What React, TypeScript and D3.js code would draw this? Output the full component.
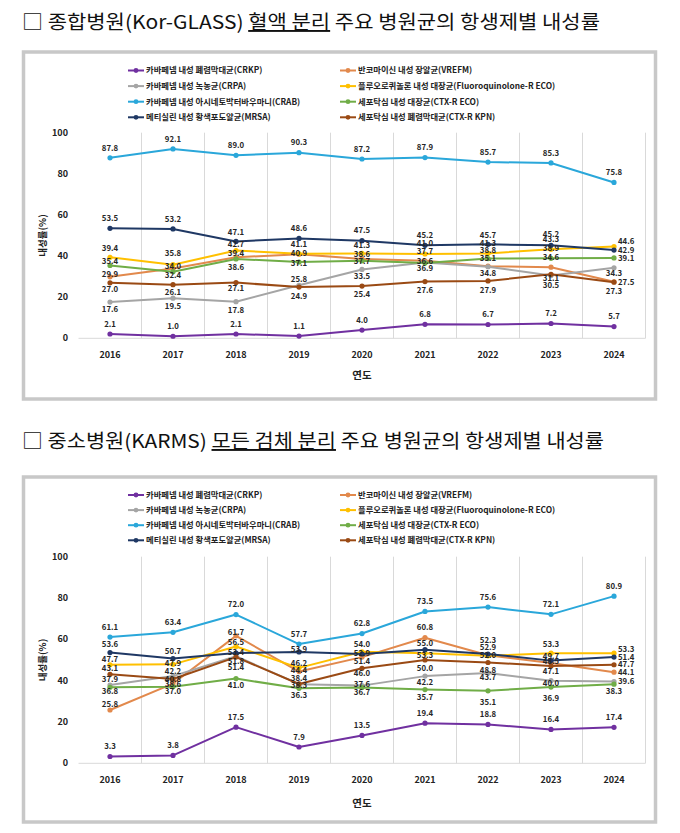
import React from 'react';
import * as d3 from 'd3';

// ---------- data ----------
const years = ['2016', '2017', '2018', '2019', '2020', '2021', '2022', '2023', '2024'];
const yTicks = [0, 20, 40, 60, 80, 100];

const seriesKeys = ['CRKP', 'VREFM', 'CRPA', 'FQECO', 'CRAB', 'CTXECO', 'MRSA', 'CTXKPN'];
const seriesNames = [
  '카바페넴 내성 폐렴막대균(CRKP)',
  '반코마이신 내성 장알균(VREFM)',
  '카바페넴 내성  녹농균(CRPA)',
  '플루오로퀴놀론 내성 대장균(Fluoroquinolone-R ECO)',
  '카바페넴 내성 아시네토박터바우마니(CRAB)',
  '세포탁심 내성 대장균(CTX-R ECO)',
  '메티실린 내성 황색포도알균(MRSA)',
  '세포탁심 내성 폐렴막대균(CTX-R KPN)',
];

// 종합병원 (Kor-GLASS)
const glassCRKP = [2.1, 1.0, 2.1, 1.1, 4.0, 6.8, 6.7, 7.2, 5.7];
const glassVREFM = [29.9, 34.0, 39.4, 40.9, 38.6, 37.7, 35.1, 34.6, 27.5];
const glassCRPA = [17.6, 19.5, 17.8, 25.8, 33.5, 36.9, 34.8, 30.5, 34.3];
const glassFQECO = [39.4, 35.8, 42.7, 41.1, 41.3, 41.0, 41.3, 43.3, 44.6];
const glassCRAB = [87.8, 92.1, 89.0, 90.3, 87.2, 87.9, 85.7, 85.3, 75.8];
const glassCTXECO = [35.4, 32.4, 38.6, 37.1, 37.7, 36.6, 38.8, 38.9, 39.1];
const glassMRSA = [53.5, 53.2, 47.1, 48.6, 47.5, 45.2, 45.7, 45.2, 42.9];
const glassCTXKPN = [27.0, 26.1, 27.1, 24.9, 25.4, 27.6, 27.9, 31.1, 27.3];

// 중소병원 (KARMS)
const karmsCRKP = [3.3, 3.8, 17.5, 7.9, 13.5, 19.4, 18.8, 16.4, 17.4];
const karmsVREFM = [25.8, 38.6, 61.7, 44.4, 51.4, 60.8, 52.3, 48.5, 44.1];
const karmsCRPA = [37.9, 42.2, 51.8, 38.3, 37.6, 42.2, 43.7, 40.0, 39.6];
const karmsFQECO = [47.7, 47.9, 56.5, 46.2, 54.0, 53.3, 52.0, 53.3, 53.3];
const karmsCRAB = [61.1, 63.4, 72.0, 57.7, 62.8, 73.5, 75.6, 72.1, 80.9];
const karmsCTXECO = [36.8, 37.0, 41.0, 36.3, 36.7, 35.7, 35.1, 36.9, 38.3];
const karmsMRSA = [53.6, 50.7, 53.4, 53.9, 52.9, 55.0, 52.9, 49.7, 51.4];
const karmsCTXKPN = [43.1, 40.8, 51.4, 38.4, 46.0, 50.0, 48.8, 47.1, 47.7];

// ---------- style ----------
const seriesColors: Record<string, string> = {
  CRKP: '#7030A0',
  VREFM: '#E2894C',
  CRPA: '#A5A5A5',
  FQECO: '#FFC000',
  CRAB: '#2AA7DA',
  CTXECO: '#70AD47',
  MRSA: '#1F3864',
  CTXKPN: '#9A4A14',
};

const FONT = "'Noto Sans CJK KR', 'Noto Sans', sans-serif";

type Nudge = number | { right: true; dy: number };
const R = (dy: number): Nudge => ({ right: true, dy });
const all = (n: number): Nudge[] => years.map(() => n);

// data label nudges (px, relative to the point)
const glassNudges: Record<string, Nudge[]> = {
  CRKP: all(-10),
  VREFM: [-3, -2, -4, -1, -5, -10, -8, -10, R(1)],
  CRPA: [7, 8, 9, -6, 7, 6, 7, 10, 5],
  FQECO: [-9, -11, -6, -10, -8, -11, -10, -10, R(-5)],
  CRAB: all(-10),
  CTXECO: [-4, 4, 8, 1, 0, -2, -8, -10, R(0)],
  MRSA: [-10, -10, -9, -10, -10, -10, -9, -11, R(0)],
  CTXKPN: [6, 8, 6, 9, 8, 9, 9, 4, 9],
};
const karmsNudges: Record<string, Nudge[]> = {
  CRKP: all(-10),
  VREFM: [-6, 1, -4, -1, 4, -10, -15, -2, R(0)],
  CRPA: [-6, -5, 5, 1, -1, 6, 4, 3, R(0)],
  FQECO: [-5, -1, -4, -5, -7, 2, -1, -9, R(-4)],
  CRAB: all(-10),
  CTXECO: [4, 4, 7, 7, 5, 8, 11, 11, 7],
  MRSA: [-8, -7, -1, -3, -1, -6, -7, -4, R(0)],
  CTXKPN: [-6, 0, 10, -6, 5, 8, 8, 5, R(0)],
};

const glassData: Record<string, number[]> = {
  CRKP: glassCRKP, VREFM: glassVREFM, CRPA: glassCRPA, FQECO: glassFQECO,
  CRAB: glassCRAB, CTXECO: glassCTXECO, MRSA: glassMRSA, CTXKPN: glassCTXKPN,
};
const karmsData: Record<string, number[]> = {
  CRKP: karmsCRKP, VREFM: karmsVREFM, CRPA: karmsCRPA, FQECO: karmsFQECO,
  CRAB: karmsCRAB, CTXECO: karmsCTXECO, MRSA: karmsMRSA, CTXKPN: karmsCTXKPN,
};

interface Layout {
  titleY: number;
  titleWidth: number;
  panelTop: number;
  panelBottom: number;
  legendTop: number;
  legendStep: number;
  plotTop: number;
  plotBottom: number;
  yearY: number;
  xTitleY: number;
}

function Chart({
  layout, data, nudges, titlePre, titleUnder, titlePost,
}: {
  layout: Layout; data: Record<string, number[]>; nudges: Record<string, Nudge[]>;
  titlePre: string; titleUnder: string; titlePost: string;
}) {
  const plotLeft = 78.5;
  const plotRight = 645.5;
  const x = d3.scaleBand<string>().domain(years).range([plotLeft, plotRight]).padding(0);
  const cx = (yr: string) => (x(yr) as number) + x.bandwidth() / 2;
  const y = d3.scaleLinear().domain([0, 100]).range([layout.plotBottom, layout.plotTop]);
  const line = d3.line<number>().x((_, i) => cx(years[i])).y((v) => y(v));

  const legendCols = [128, 340];
  return (
    <g>
      {/* title */}
      <text x={22} y={layout.titleY} fontFamily={FONT} fontSize={19} fill="#111"
        textLength={layout.titleWidth} lengthAdjust="spacingAndGlyphs">
        <tspan>{titlePre}</tspan>
        <tspan style={{ textDecoration: 'underline' }}>{titleUnder}</tspan>
        <tspan>{titlePost}</tspan>
      </text>

      {/* panel */}
      <rect x={23.5} y={layout.panelTop} width={632} height={layout.panelBottom - layout.panelTop}
        fill="#fff" stroke="#c8c8c8" strokeWidth={3.5} />

      {/* legend */}
      {seriesKeys.map((k, i) => {
        const col = i % 2;
        const row = Math.floor(i / 2);
        const lx = legendCols[col];
        const ly = layout.legendTop + row * layout.legendStep;
        return (
          <g key={k}>
            <line x1={lx} x2={lx + 16} y1={ly} y2={ly} stroke={seriesColors[k]} strokeWidth={2} />
            <circle cx={lx + 8} cy={ly} r={2.4} fill={seriesColors[k]} />
            <text x={lx + 18} y={ly} dy="0.35em" fontFamily={FONT} fontSize={8.3}
              fontWeight={700} fill="#222">{seriesNames[i]}</text>
          </g>
        );
      })}

      {/* vertical gridlines */}
      {years.map((yr) => (
        <line key={yr} x1={(x(yr) as number) + x.bandwidth()} x2={(x(yr) as number) + x.bandwidth()}
          y1={layout.plotTop} y2={layout.plotBottom} stroke="#d9d9d9" strokeWidth={1} />
      ))}
      {/* x axis line */}
      <line x1={plotLeft} x2={plotRight} y1={layout.plotBottom} y2={layout.plotBottom}
        stroke="#d9d9d9" strokeWidth={1} />

      {/* y ticks */}
      {yTicks.map((t) => (
        <text key={t} x={68} y={y(t)} dy="0.35em" textAnchor="end" fontFamily={FONT}
          fontSize={9} fontWeight={700} fill="#222">{t}</text>
      ))}
      {/* x ticks */}
      {years.map((yr) => (
        <text key={yr} x={cx(yr)} y={layout.yearY} dy="0.35em" textAnchor="middle" fontFamily={FONT}
          fontSize={9} fontWeight={700} fill="#222">{yr}</text>
      ))}
      <text x={362} y={layout.xTitleY} dy="0.35em" textAnchor="middle" fontFamily={FONT}
        fontSize={10.5} fontWeight={700} fill="#222">연도</text>
      <text transform={`translate(43,${(layout.plotTop + layout.plotBottom) / 2}) rotate(-90)`}
        dy="0.35em" textAnchor="middle" fontFamily={FONT} fontSize={9.5} fontWeight={700}
        fill="#222">내성률(%)</text>

      {/* lines */}
      {seriesKeys.map((k) => (
        <g key={k}>
          <path d={line(data[k]) as string} fill="none" stroke={seriesColors[k]} strokeWidth={2}
            strokeLinejoin="round" />
          {data[k].map((v, i) => (
            <circle key={i} cx={cx(years[i])} cy={y(v)} r={2.6} fill={seriesColors[k]} />
          ))}
        </g>
      ))}

      {/* data labels */}
      {seriesKeys.map((k) => (
        <g key={k}>
          {data[k].map((v, i) => {
            const n = nudges[k][i];
            const isRight = typeof n === 'object';
            const dy = isRight ? (n as any).dy : (n as number);
            return (
              <text key={i} x={cx(years[i]) + (isRight ? 4 : 0)} y={y(v) + dy} dy="0.35em"
                textAnchor={isRight ? 'start' : 'middle'} fontFamily={FONT} fontSize={7.8}
                fontWeight={700} fill="#262626">{v.toFixed(1)}</text>
            );
          })}
        </g>
      ))}
    </g>
  );
}

export default function App() {
  const layoutTop: Layout = {
    titleY: 29, titleWidth: 578, panelTop: 52, panelBottom: 399,
    legendTop: 70.5, legendStep: 15.6, plotTop: 132.7, plotBottom: 338.3, yearY: 355, xTitleY: 375,
  };
  const layoutBottom: Layout = {
    titleY: 448, titleWidth: 582, panelTop: 477, panelBottom: 822,
    legendTop: 495, legendStep: 15.1, plotTop: 556.7, plotBottom: 763.3, yearY: 780, xTitleY: 803,
  };
  return (
    <svg width={680} height={833} style={{ position: 'absolute', left: 0, top: 0, background: '#fff' }}>
      <Chart layout={layoutTop} data={glassData} nudges={glassNudges}
        titlePre="□ 종합병원(Kor-GLASS) " titleUnder="혈액 분리" titlePost=" 주요 병원균의 항생제별 내성률" />
      <Chart layout={layoutBottom} data={karmsData} nudges={karmsNudges}
        titlePre="□ 중소병원(KARMS) " titleUnder="모든 검체 분리" titlePost=" 주요 병원균의 항생제별 내성률" />
    </svg>
  );
}
